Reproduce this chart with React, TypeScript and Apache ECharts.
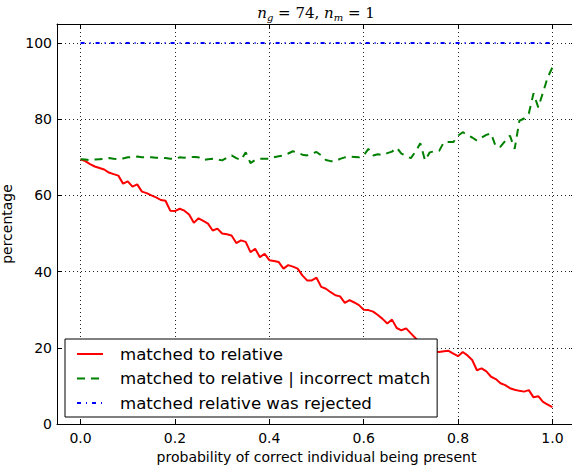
import React, { useEffect, useRef } from "react";
import * as echarts from "echarts";

// x positions: probability of correct individual being present (0.00 .. 1.00, step 0.01)
const probability: number[] = Array.from({ length: 101 }, (_, i) => i / 100);

const matchedToRelative: number[] = [
  69.5, 69.0, 68.2, 67.6, 67.2, 66.8, 66.0, 65.6, 65.2, 63.1,
  63.7, 62.3, 62.9, 61.0, 60.6, 60.0, 59.5, 58.8, 58.6, 56.0,
  55.9, 56.5, 56.0, 55.0, 52.8, 54.0, 53.3, 52.6, 50.8, 51.3,
  50.0, 49.8, 49.5, 47.5, 48.2, 47.8, 45.1, 46.0, 43.8, 44.7,
  43.0, 42.8, 42.5, 40.8, 41.7, 41.3, 40.8, 39.0, 37.7, 37.7,
  38.4, 36.0, 35.5, 34.6, 33.8, 33.5, 31.8, 32.5, 31.9, 31.2,
  30.0, 29.9, 29.5, 28.6, 27.6, 26.4, 27.4, 25.2, 24.6, 25.1,
  23.8, 22.5, 21.3, 20.5, 19.8, 19.0, 18.9, 19.1, 19.2, 18.5,
  17.8, 18.9, 18.0, 16.8, 14.1, 14.6, 13.8, 12.4, 11.8, 10.7,
  10.2, 9.4, 9.0, 8.7, 8.5, 8.9, 7.0, 7.3, 5.8, 5.1,
  4.4,
];

const matchedIncorrect: number[] = [
  69.5, 69.4, 69.3, 69.4, 69.5, 69.6, 69.8, 69.6, 69.5, 69.7,
  70.0, 70.1, 70.2, 70.0, 70.0, 70.0, 69.9, 69.9, 69.8, 69.6,
  69.6, 70.0, 69.9, 70.0, 70.1, 70.0, 69.3, 69.5, 69.6, 69.4,
  69.2, 69.9, 70.5, 69.8, 69.3, 71.3, 68.5, 69.3, 69.6, 69.6,
  69.6, 70.0, 70.3, 70.5, 71.0, 71.6, 71.2, 70.7, 70.5, 71.0,
  71.4, 70.5, 69.3, 69.0, 69.0, 69.6, 70.0, 70.2, 70.1, 70.0,
  70.5, 72.2, 70.5, 70.8, 70.6, 71.1, 71.5, 72.5, 71.0, 70.3,
  69.8, 71.5, 73.7, 69.2, 71.3, 71.6, 71.7, 74.0, 74.0, 74.0,
  75.7, 76.6, 75.8, 75.2, 74.4, 75.2, 75.9, 76.3, 72.8, 72.8,
  74.3, 75.7, 72.2, 79.6, 80.2, 81.5, 86.8, 83.1, 87.0, 91.0,
  93.6,
];

const rejected: number[] = [
  100, 100, 100, 100, 100, 100, 100, 100, 100, 100,
  100, 100, 100, 100, 100, 100, 100, 100, 100, 100,
  100, 100, 100, 100, 100, 100, 100, 100, 100, 100,
  100, 100, 100, 100, 100, 100, 100, 100, 100, 100,
  100, 100, 100, 100, 100, 100, 100, 100, 100, 100,
  100, 100, 100, 100, 100, 100, 100, 100, 100, 100,
  100, 100, 100, 100, 100, 100, 100, 100, 100, 100,
  100, 100, 100, 100, 100, 100, 100, 100, 100, 100,
  100, 100, 100, 100, 100, 100, 100, 100, 100, 100,
  100, 100, 100, 100, 100, 100, 100, 100, 100, 100,
  100,
];

const xTicks: number[] = [0, 0.2, 0.4, 0.6, 0.8, 1.0];
const yTicks: number[] = [0, 20, 40, 60, 80, 100];

const seriesNames = [
  "matched to relative",
  "matched to relative | incorrect match",
  "matched relative was rejected",
];

const FONT = "DejaVu Sans";

export default function App() {
  const ref = useRef<HTMLDivElement>(null);

  useEffect(() => {
    if (!ref.current) return;
    const chart = echarts.init(ref.current, null, { renderer: "svg" });
    const pairs = (ys: number[]) => probability.map((x, i) => [x, ys[i]]);
    const gridLine = {
      show: true,
      lineStyle: { color: "#222", width: 1, type: [1, 3] as any },
    };
    const axisLine = { show: true, onZero: false, lineStyle: { color: "#000", width: 1 } };
    const tick = (vals: number[]) => ({
      show: true,
      inside: true,
      length: 5,
      customValues: vals,
      lineStyle: { color: "#000", width: 1 },
    });
    chart.setOption({
      animation: false,
      backgroundColor: "#fff",
      grid: {
        left: 57,
        top: 24,
        right: -4,
        bottom: 42,
        containLabel: false,
        outerBoundsMode: "none",
      } as any,
      xAxis: [
        {
          type: "value",
          min: -0.05,
          max: 1.05,
          position: "bottom",
          axisLine,
          axisTick: tick(xTicks),
          splitLine: gridLine,
          axisLabel: {
            customValues: xTicks,
            formatter: (v: number) => v.toFixed(1),
            color: "#000",
            fontFamily: FONT,
            fontSize: 14,
            margin: 7,
          },
          name: "probability of correct individual being present",
          nameLocation: "middle",
          nameGap: 23,
          nameTextStyle: { color: "#000", fontFamily: FONT, fontSize: 14 },
        },
        {
          type: "value",
          min: -0.05,
          max: 1.05,
          position: "top",
          axisLine,
          axisTick: tick(xTicks),
          splitLine: { show: false },
          axisLabel: { show: false, customValues: xTicks },
        },
      ],
      yAxis: [
        {
          type: "value",
          min: 0,
          max: 105,
          position: "left",
          axisLine,
          axisTick: tick(yTicks),
          splitLine: gridLine,
          axisLabel: {
            customValues: yTicks,
            color: "#000",
            fontFamily: FONT,
            fontSize: 14,
            margin: 5,
          },
          name: "percentage",
          nameLocation: "middle",
          nameGap: 43,
          nameTextStyle: { color: "#000", fontFamily: FONT, fontSize: 14 },
        },
        {
          type: "value",
          min: 0,
          max: 105,
          position: "right",
          axisLine,
          axisTick: tick(yTicks),
          splitLine: { show: false },
          axisLabel: { show: false, customValues: yTicks },
        },
      ],
      legend: {
        show: true,
        orient: "vertical",
        left: 65,
        top: 339,
        padding: [6, 7, 5, 11],
        itemGap: 6.5,
        itemWidth: 26,
        itemHeight: 14,
        backgroundColor: "#fff",
        borderColor: "#000",
        borderWidth: 1,
        borderRadius: 0,
        data: seriesNames,
        itemStyle: { opacity: 0 },
        lineStyle: { width: 2 },
        textStyle: {
          color: "#000",
          fontFamily: FONT,
          fontSize: 16.6,
          lineHeight: 18,
          padding: [0, 0, 0, 12],
        },
      },
      graphic: [
        {
          type: "text",
          x: 316,
          y: 13,
          style: {
            text: "{i|n}{s|g}{r| = 74, }{i|n}{s|m}{r| = 1}",
            align: "center",
            verticalAlign: "middle",
            rich: {
              i: { fontFamily: "DejaVu Serif", fontStyle: "italic", fontSize: 15, lineHeight: 18, fill: "#000" },
              s: { fontFamily: "DejaVu Serif", fontStyle: "italic", fontSize: 10, lineHeight: 10, verticalAlign: "bottom", fill: "#000" },
              r: { fontFamily: "DejaVu Serif", fontSize: 15, lineHeight: 18, fill: "#000" },
            },
          },
        },
      ],
      series: [
        {
          name: seriesNames[0],
          type: "line",
          data: pairs(matchedToRelative),
          showSymbol: false,
          symbol: "none",
          lineStyle: { color: "#ff0000", width: 2 },
          itemStyle: { color: "#ff0000" },
          z: 3,
        },
        {
          name: seriesNames[1],
          type: "line",
          data: pairs(matchedIncorrect),
          showSymbol: false,
          symbol: "none",
          lineStyle: { color: "#008000", width: 2, type: [8, 6] as any },
          itemStyle: { color: "#008000" },
          z: 3,
        },
        {
          name: seriesNames[2],
          type: "line",
          data: pairs(rejected),
          showSymbol: false,
          symbol: "none",
          lineStyle: { color: "#0000ff", width: 2, type: [4, 5, 1, 5] as any },
          itemStyle: { color: "#0000ff" },
          z: 3,
        },
      ],
    });
    return () => chart.dispose();
  }, []);

  return (
    <div
      ref={ref}
      style={{ position: "fixed", left: 0, top: 0, width: 572, height: 466, background: "#fff" }}
    />
  );
}
